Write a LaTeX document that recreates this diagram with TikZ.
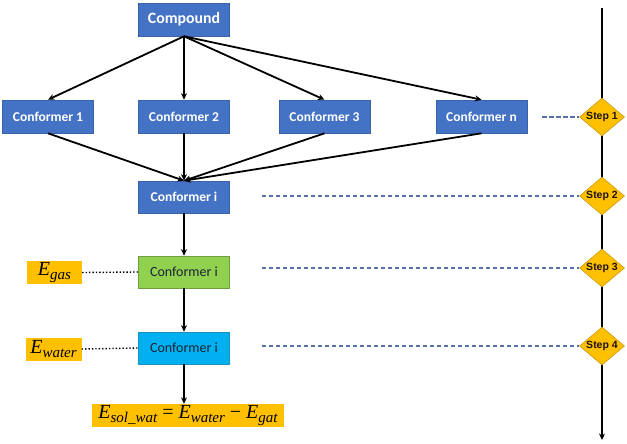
\documentclass[tikz,border=0pt]{standalone}
\usepackage{fontspec}
\setmainfont{Carlito}
\newfontfamily\stepfont{Liberation Sans}
\newfontfamily\eqfont{Liberation Serif}
\newcommand\Eterm[1]{{\eqfont\itshape\fontsize{20}{22}\selectfont E\raisebox{-4.5pt}{\fontsize{15}{16}\selectfont #1}}}
\newcommand\eqop[1]{{\eqfont\fontsize{20}{22}\selectfont\hspace{5pt}#1\hspace{5pt}}}
\usetikzlibrary{shapes.geometric,arrows.meta}
\definecolor{boxblue}{HTML}{4472C4}
\definecolor{boxblueedge}{HTML}{3A62AA}
\definecolor{boxgreen}{HTML}{92D050}
\definecolor{boxgreenedge}{HTML}{6F9E3A}
\definecolor{boxcyan}{HTML}{00B0F0}
\definecolor{boxcyanedge}{HTML}{1A8FC0}
\definecolor{gold}{HTML}{FFC000}
\definecolor{goldedge}{HTML}{C99A10}
\definecolor{dashblue}{HTML}{5570AC}
\definecolor{darktext}{HTML}{1B2436}
\tikzset{
  bluebox/.style={rectangle, fill=boxblue, draw=boxblueedge, line width=0.6pt,
    minimum width=91pt, minimum height=33pt, inner sep=0pt, text=white,
    font=\bfseries\fontsize{13.5}{16}\selectfont},
  greenbox/.style={bluebox, fill=boxgreen, draw=boxgreenedge, text=darktext,
    font=\fontsize{14}{16}\selectfont},
  cyanbox/.style={bluebox, fill=boxcyan, draw=boxcyanedge, text=darktext,
    font=\fontsize{14}{16}\selectfont},
  energy/.style={rectangle, fill=gold, inner sep=0pt, minimum height=23pt},
  stepbox/.style={diamond, fill=gold, draw=goldedge, line width=0.6pt,
    minimum width=45pt, minimum height=38pt, inner sep=0pt, aspect=1.2,
    font=\stepfont\bfseries\fontsize{10.5}{12}\selectfont, text=black!85!brown},
  arr/.style={-{Stealth[length=6.5pt,width=6pt]}, line width=1.8pt, black},
  dashline/.style={dashblue, line width=1.4pt, dash pattern=on 4.5pt off 2.5pt},
  dotline/.style={black, line width=1.4pt, dotted}
}
\begin{document}
\begin{tikzpicture}[x=1pt,y=-1pt]
\useasboundingbox (0,0) rectangle (627,444);
% main nodes
\node[bluebox, font=\bfseries\fontsize{15.8}{18}\selectfont] (comp) at (184,19.5) {Compound};
\node[bluebox] (c1) at (48,116.5) {Conformer 1};
\node[bluebox] (c2) at (184,116.5) {Conformer 2};
\node[bluebox] (c3) at (324.5,116.5) {Conformer 3};
\node[bluebox] (cn) at (481.5,116.5) {Conformer n};
\node[bluebox, minimum height=32pt] (ci) at (184,197) {Conformer i};
\node[greenbox, minimum height=32pt] (cg) at (184,272) {Conformer i};
\node[cyanbox, minimum height=32pt] (cw) at (184,348) {Conformer i};
% energy labels
\node[energy, minimum width=55pt] (eg) at (54.5,272.5) {\Eterm{gas}};
\node[energy, minimum width=56pt] (ew) at (53.5,349) {\Eterm{water}};
\node[energy, minimum width=192pt] (ef) at (188,415.5) {\Eterm{sol\_wat}\eqop{=}\Eterm{water}\eqop{−}\Eterm{gat}};
% timeline
\coordinate (ttop) at (602,8);
\coordinate (tbot) at (602,440);
\draw[arr] (ttop) -- (tbot);
\node[stepbox] (s1) at (602,117) {Step 1};
\node[stepbox] (s2) at (602,196) {Step 2};
\node[stepbox] (s3) at (602,268) {Step 3};
\node[stepbox] (s4) at (602,346) {Step 4};
% arrows from compound
\draw[arr] (comp.south) -- (c1.north);
\draw[arr] (comp.south) -- (c2.north);
\draw[arr] (comp.south) -- (c3.north);
\draw[arr] (comp.south) -- (cn.north);
% arrows into conformer i
\draw[arr] (c1.south) -- (ci.north);
\draw[arr] (c2.south) -- (ci.north);
\draw[arr] (c3.south) -- (ci.north);
\draw[arr] (cn.south) -- (ci.north);
% vertical chain
\draw[arr] (ci.south) -- (cg.north);
\draw[arr] (cg.south) -- (cw.north);
\draw[arr] (cw.south) -- (cw.south |- ef.north);
% dotted lines
\draw[dotline] (eg.east) -- (cg.west);
\draw[dotline] (ew.east) -- (cw.west);
% dashed links to steps
\coordinate (d1) at ([xshift=15pt]cn.east);
\coordinate (d2) at ([xshift=32pt]ci.east);
\coordinate (d3) at ([xshift=32pt]cg.east);
\coordinate (d4) at ([xshift=32pt]cw.east);
\draw[dashline] (d1 |- s1.west) -- (s1.west);
\draw[dashline] (d2 |- s2.west) -- (s2.west);
\draw[dashline] (d3 |- s3.west) -- (s3.west);
\draw[dashline] (d4 |- s4.west) -- (s4.west);
\end{tikzpicture}
\end{document}
